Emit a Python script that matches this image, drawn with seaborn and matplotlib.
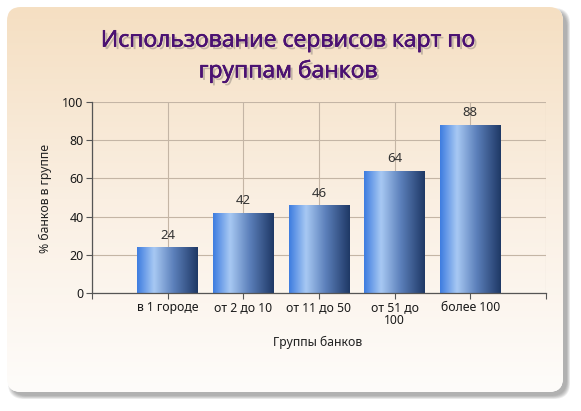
import numpy as np
import seaborn as sns
import matplotlib
matplotlib.use('Agg')
import matplotlib.pyplot as plt
from matplotlib.patches import FancyBboxPatch
from matplotlib.colors import LinearSegmentedColormap
import matplotlib.patheffects as pe

groups = ['в 1 городе', 'от 2 до 10', 'от 11 до 50', 'от 51 до\n100', 'более 100']
share = [24, 42, 46, 64, 88]
yticks = [0, 20, 40, 60, 80, 100]

title = 'Использование сервисов карт по\nгруппам банков'
xlabel = 'Группы банков'
ylabel = '% банков в группе'

sns.set_style('white')
plt.rcParams['font.family'] = ['Noto Sans', 'DejaVu Sans']

W, H = 581, 411
fig = plt.figure(figsize=(W / 100, H / 100), dpi=100)
fig.patch.set_facecolor('white')

# rounded panel with soft shadow and tan->white gradient
bg = fig.add_axes([0, 0, 1, 1], zorder=0)
bg.set_xlim(0, W)
bg.set_ylim(H, 0)
bg.axis('off')
px, py, pw, ph = 7, 7, 556, 385
for k in range(6):
    sh = FancyBboxPatch((px + 4 - k * 0.6, py + 4 - k * 0.6), pw + k * 1.2, ph + k * 1.2,
                        boxstyle='round,pad=0,rounding_size=16',
                        fc='#606060', ec='none', alpha=0.10, zorder=1)
    bg.add_patch(sh)
panel = FancyBboxPatch((px, py), pw, ph, boxstyle='round,pad=0,rounding_size=14',
                       fc='white', ec='none', zorder=2)
bg.add_patch(panel)
panel_cmap = LinearSegmentedColormap.from_list('panel', ['#f5dfc2', '#faefe2', '#fefcfa'])
grad = np.linspace(0, 1, 256).reshape(-1, 1)
im = bg.imshow(grad, cmap=panel_cmap, aspect='auto', extent=(px, px + pw, py + ph, py),
               origin='upper', interpolation='bicubic', zorder=3)
im.set_clip_path(panel)
bg.set_xlim(0, W)
bg.set_ylim(H, 0)

# chart
ax = fig.add_axes([92 / W, 1 - 293 / H, (546 - 92) / W, (293 - 102) / H], zorder=1)
ax.patch.set_alpha(0)
sns.barplot(x=groups, y=share, ax=ax, width=0.8, color='#4a80d8', saturation=1)

bar_cmap = LinearSegmentedColormap.from_list(
    'bar', [(0, '#3d7ce0'), (0.28, '#a8c9f3'), (0.6, '#5c80bb'), (1, '#1e3865')])
hgrad = np.linspace(0, 1, 256).reshape(1, -1)
for patch, v in zip(ax.patches, share):
    x0 = patch.get_x()
    w = patch.get_width()
    h = patch.get_height()
    patch.set_facecolor('none')
    patch.set_edgecolor('none')
    gi = ax.imshow(hgrad, cmap=bar_cmap, aspect='auto', extent=(x0, x0 + w, 0, h),
                   interpolation='bicubic', zorder=2)
    gi.set_clip_path(patch)
    ax.annotate(str(v), (x0 + w / 2, h), xytext=(0, 4), textcoords='offset points',
                ha='center', va='bottom', fontsize=9.5, color='#333333')

ax.set_xlim(-1, 5)
ax.set_ylim(0, 100)
ax.set_yticks(yticks)
ax.set_xticks(range(len(groups)))
ax.set_xticklabels(groups, fontsize=8.8, color='#1a1a1a', linespacing=0.95)
ax.set_xticks([-1, 5], minor=True)
ax.tick_params(axis='y', labelsize=9, labelcolor='#1a1a1a')
ax.tick_params(which='both', direction='out', length=4, width=0.8, color='#555555',
               left=True, bottom=True, pad=2)
ax.grid(True, which='both', color='#c4b5a5', lw=0.8)
ax.set_axisbelow(True)
sns.despine(ax=ax, top=True, right=True)
for s in ['left', 'bottom']:
    ax.spines[s].set_color('#555555')
    ax.spines[s].set_linewidth(0.9)

ax.set_xlabel('')
ax.set_ylabel('')
fig.text(318 / W, 1 - 342 / H, xlabel, ha='center', va='center', fontsize=8.8, color='#222222')
fig.text(45 / W, 1 - 198 / H, ylabel, ha='center', va='center', rotation=90,
         fontsize=8.8, color='#222222')

tc = '#4b1272'
fig.text(288 / W, 1 - 56 / H, title, ha='center', va='center', fontsize=16.5,
         family=['Open Sans', 'DejaVu Sans'], color=tc, linespacing=1.35,
         path_effects=[pe.withSimplePatchShadow(offset=(1.8, -1.8), shadow_rgbFace='#9a8f86',
                                                alpha=0.55),
                       pe.Stroke(linewidth=0.4, foreground=tc), pe.Normal()])

fig.savefig('out.png', dpi=100)
